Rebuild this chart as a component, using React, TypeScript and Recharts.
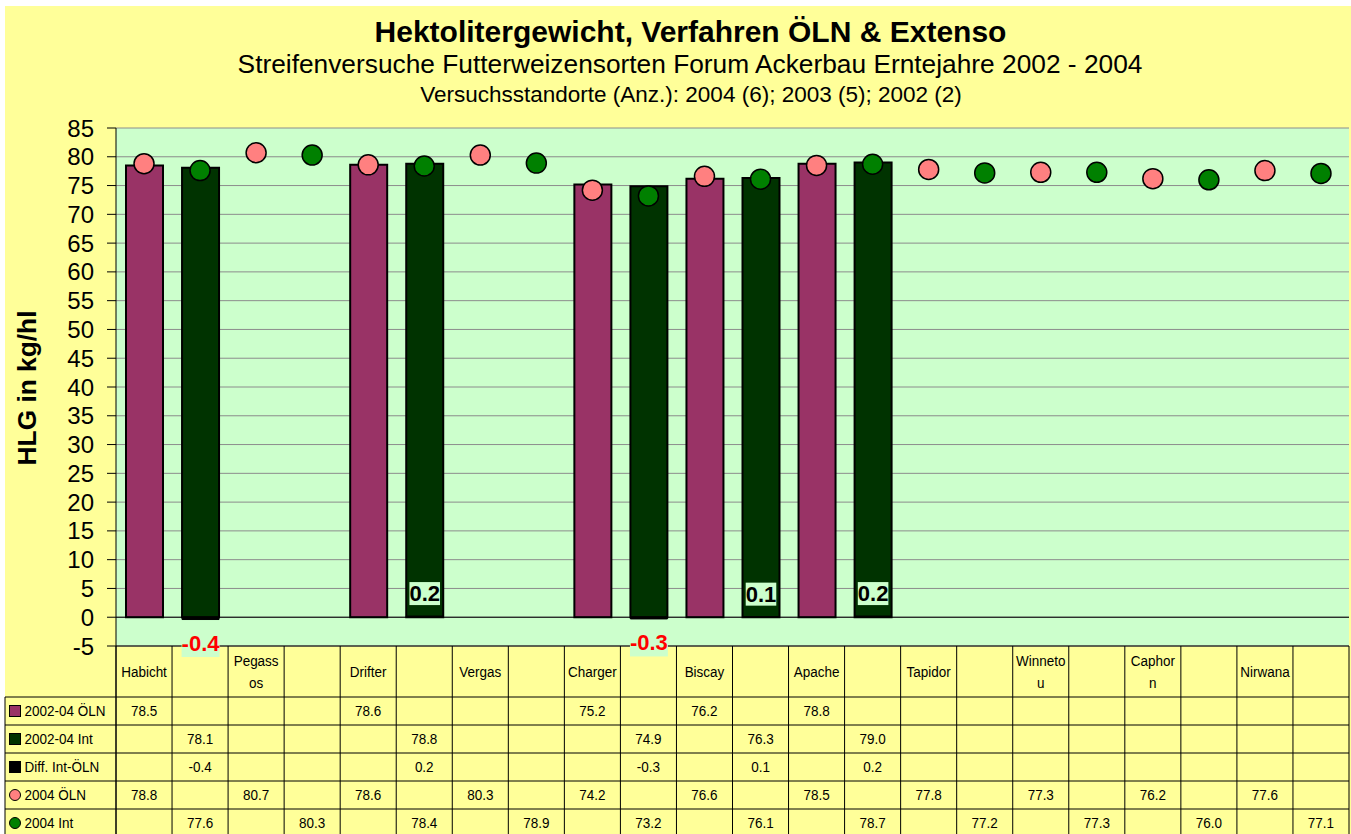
import React from "react";
import { ComposedChart, Bar, Line, XAxis, YAxis, CartesianGrid, ReferenceLine, LabelList } from "recharts";

// columns of the chart (every second one is the "Int" partner column)
const categories = ["Habicht", "", "Pegassos", "", "Drifter", "", "Vergas", "", "Charger", "", "Biscay", "", "Apache", "", "Tapidor", "", "Winnetou", "", "Caphorn", "", "Nirwana", ""];
// the way the header cells wrap in the data table
const headerLabels = ["Habicht", "", "Pegass\nos", "", "Drifter", "", "Vergas", "", "Charger", "", "Biscay", "", "Apache", "", "Tapidor", "", "Winneto\nu", "", "Caphor\nn", "", "Nirwana", ""];

const oln0204 = [78.5, null, null, null, 78.6, null, null, null, 75.2, null, 76.2, null, 78.8, null, null, null, null, null, null, null, null, null];
const int0204 = [null, 78.1, null, null, null, 78.8, null, null, null, 74.9, null, 76.3, null, 79.0, null, null, null, null, null, null, null, null];
const diffIntOln = [null, -0.4, null, null, null, 0.2, null, null, null, -0.3, null, 0.1, null, 0.2, null, null, null, null, null, null, null, null];
const oln2004 = [78.8, null, 80.7, null, 78.6, null, 80.3, null, 74.2, null, 76.6, null, 78.5, null, 77.8, null, 77.3, null, 76.2, null, 77.6, null];
const int2004 = [null, 77.6, null, 80.3, null, 78.4, null, 78.9, null, 73.2, null, 76.1, null, 78.7, null, 77.2, null, 77.3, null, 76.0, null, 77.1];

const yTicks = [-5, 0, 5, 10, 15, 20, 25, 30, 35, 40, 45, 50, 55, 60, 65, 70, 75, 80, 85];

const seriesNames = ["2002-04 ÖLN", "2002-04 Int", "Diff. Int-ÖLN", "2004 ÖLN", "2004 Int"];

const data = categories.map((name, i) => ({
  col: i,
  name,
  oln0204: oln0204[i],
  int0204: int0204[i],
  diff: diffIntOln[i],
  oln2004: oln2004[i],
  int2004: int2004[i],
}));

const tableRows = [
  { name: seriesNames[0], values: oln0204, color: "#993366", shape: "square" },
  { name: seriesNames[1], values: int0204, color: "#003300", shape: "square" },
  { name: seriesNames[2], values: diffIntOln, color: "#000000", shape: "square" },
  { name: seriesNames[3], values: oln2004, color: "#FF8080", shape: "circle" },
  { name: seriesNames[4], values: int2004, color: "#008000", shape: "circle" },
];

const W = 1351;
const H = 834;
const PLOT_LEFT = 116;
const PLOT_RIGHT = 1349;
const PLOT_TOP = 128;
const PLOT_BOTTOM = 646;
const COL_W = (PLOT_RIGHT - PLOT_LEFT) / categories.length;
const HEADER_BOTTOM = 697;
const ROW_H = 28;

const FONT = '"Liberation Sans", Arial, sans-serif';
const TABLE_SIZE = 15.5;
const SQUEEZE = 0.87; // table text in the original is a bit condensed

// condensed table text
const TText = ({ x, y, anchor = "middle", children }: any) => (
  <text
    transform={`translate(${x} ${y}) scale(${SQUEEZE} 1)`}
    x={0}
    y={0}
    textAnchor={anchor}
    dominantBaseline="central"
    fontFamily={FONT}
    fontSize={TABLE_SIZE}
    fill="#000"
  >
    {children}
  </text>
);

const LegendColumn = () => (
  <g>
    <line x1={PLOT_LEFT} y1={PLOT_BOTTOM} x2={PLOT_LEFT} y2={H} stroke="#000" />
    <line x1={5} y1={HEADER_BOTTOM} x2={5} y2={H} stroke="#000" />
    {tableRows.map((r, k) => {
      const top = HEADER_BOTTOM + k * ROW_H;
      const cy = top + ROW_H / 2;
      return (
        <g key={r.name}>
          <line x1={5} y1={top} x2={PLOT_RIGHT} y2={top} stroke="#000" />
          {r.shape === "square" ? (
            <rect x={9.5} y={cy - 5.5} width={11} height={11} fill={r.color} stroke="#000" strokeWidth={1} />
          ) : (
            <circle cx={15} cy={cy} r={5.5} fill={r.color} stroke="#000" strokeWidth={1} />
          )}
          <TText x={24.5} y={cy} anchor="start">
            {r.name}
          </TText>
        </g>
      );
    })}
    <line x1={5} y1={HEADER_BOTTOM + 5 * ROW_H} x2={PLOT_RIGHT} y2={HEADER_BOTTOM + 5 * ROW_H} stroke="#000" />
    <line x1={PLOT_LEFT} y1={PLOT_BOTTOM} x2={PLOT_RIGHT} y2={PLOT_BOTTOM} stroke="#000" />
  </g>
);

const TableTick = (props: any) => {
  const { x, payload } = props;
  const i = Number(payload.value);
  const left = x - COL_W / 2;
  const lines = headerLabels[i] ? headerLabels[i].split("\n") : [];
  const headerMid = (PLOT_BOTTOM + HEADER_BOTTOM) / 2;
  return (
    <g>
      {i === 0 && <LegendColumn />}
      <line x1={left} y1={PLOT_BOTTOM} x2={left} y2={H} stroke="#000" />
      {i === categories.length - 1 && <line x1={left + COL_W} y1={PLOT_BOTTOM} x2={left + COL_W} y2={H} stroke="#000" />}
      {lines.map((t, k) => (
        <TText key={k} x={x} y={headerMid + (k - (lines.length - 1) / 2) * 22}>
          {t}
        </TText>
      ))}
      {tableRows.map((r, k) =>
        r.values[i] == null ? null : (
          <TText key={r.name} x={x} y={HEADER_BOTTOM + k * ROW_H + ROW_H / 2}>
            {(r.values[i] as number).toFixed(1)}
          </TText>
        )
      )}
    </g>
  );
};

const charW: Record<string, number> = { "-": 0.333, ".": 0.278 };
const labelWidth = (s: string, size: number) => s.split("").reduce((w, c) => w + (charW[c] ?? 0.556), 0) * size;

const DiffLabel = (props: any) => {
  const { x, y, width, height, value } = props;
  if (value == null) return null;
  const v = Number(value);
  const s = v.toFixed(1);
  const cx = x + width / 2;
  const top = Math.min(y, y + height);
  const bottom = Math.max(y, y + height);
  const size = 22;
  const bw = labelWidth(s, size);
  if (v >= 0) {
    const cy = top - 22.5;
    return (
      <g>
        <rect x={cx - bw / 2} y={cy - 11.5} width={bw} height={23} fill="#CCFFCC" />
        <text x={cx} y={cy} textAnchor="middle" dominantBaseline="central" fontFamily={FONT} fontWeight="bold" fontSize={size} fill="#000">
          {s}
        </text>
      </g>
    );
  }
  const cy = bottom + 23.5;
  return (
    <g>
      <rect x={cx - bw / 2} y={cy - 4} width={bw} height={18} fill="#CCFFCC" />
      <text x={cx} y={cy} textAnchor="middle" dominantBaseline="central" fontFamily={FONT} fontWeight="bold" fontSize={size} fill="#FF0000">
        {s}
      </text>
    </g>
  );
};

export default function App() {
  return (
    <div style={{ position: "absolute", left: 0, top: 0, width: W, height: H, background: "#fff", overflow: "hidden" }}>
      <div style={{ position: "absolute", left: 5, top: 6, width: W - 5, height: H - 6, background: "#FFFF99" }} />
      <svg width={W} height={H} style={{ position: "absolute", left: 0, top: 0 }}>
        <text x={690.5} y={42} textAnchor="middle" fontFamily={FONT} fontWeight="bold" fontSize={30} fill="#000">
          Hektolitergewicht, Verfahren ÖLN &amp; Extenso
        </text>
        <text x={690} y={73} textAnchor="middle" fontFamily={FONT} fontSize={26.3} fill="#000">
          Streifenversuche Futterweizensorten Forum Ackerbau Erntejahre 2002 - 2004
        </text>
        <text x={691} y={102} textAnchor="middle" fontFamily={FONT} fontSize={22.5} fill="#000">
          Versuchsstandorte (Anz.): 2004 (6); 2003 (5); 2002 (2)
        </text>
        <text x={36} y={388} transform="rotate(-90 36 388)" textAnchor="middle" fontFamily={FONT} fontWeight="bold" fontSize={26.3} fill="#000">
          HLG in kg/hl
        </text>
      </svg>
      <div style={{ position: "absolute", left: 0, top: 0 }}>
        <ComposedChart
          width={W}
          height={H}
          data={data}
          margin={{ top: PLOT_TOP, right: W - PLOT_RIGHT, bottom: 0, left: 5 }}
          barGap={-37}
        >
          <CartesianGrid vertical={false} stroke="#8c8c8c" fill="#CCFFCC" fillOpacity={1} />
          <XAxis
            dataKey="col"
            type="category"
            height={H - PLOT_BOTTOM}
            axisLine={false}
            tickLine={false}
            interval={0}
            tick={<TableTick />}
          />
          <YAxis
            domain={[-5, 85]}
            ticks={yTicks}
            interval={0}
            width={PLOT_LEFT - 5}
            tickSize={9}
            tickMargin={13}
            stroke="#000"
            tick={{ fontSize: 24, fill: "#000", fontFamily: FONT }}
          />
          <YAxis
            yAxisId="right"
            orientation="right"
            domain={[-5, 85]}
            width={0}
            tick={false}
            tickLine={false}
            stroke="#8c8c8c"
          />
          <ReferenceLine y={0} stroke="#000" strokeWidth={1} />
          <Bar dataKey="oln0204" barSize={37} fill="#993366" stroke="#000" strokeWidth={2} isAnimationActive={false} />
          <Bar dataKey="int0204" barSize={37} fill="#003300" stroke="#000" strokeWidth={2} isAnimationActive={false} />
          <Bar dataKey="diff" barSize={37} fill="#000000" stroke="#000" strokeWidth={1} isAnimationActive={false}>
            <LabelList dataKey="diff" content={<DiffLabel />} />
          </Bar>
          <Line
            dataKey="oln2004"
            stroke="none"
            dot={{ r: 10, fill: "#FF8080", stroke: "#000", strokeWidth: 1.5 }}
            activeDot={false}
            isAnimationActive={false}
          />
          <Line
            dataKey="int2004"
            stroke="none"
            dot={{ r: 10, fill: "#008000", stroke: "#000", strokeWidth: 1.5 }}
            activeDot={false}
            isAnimationActive={false}
          />
        </ComposedChart>
      </div>
    </div>
  );
}
